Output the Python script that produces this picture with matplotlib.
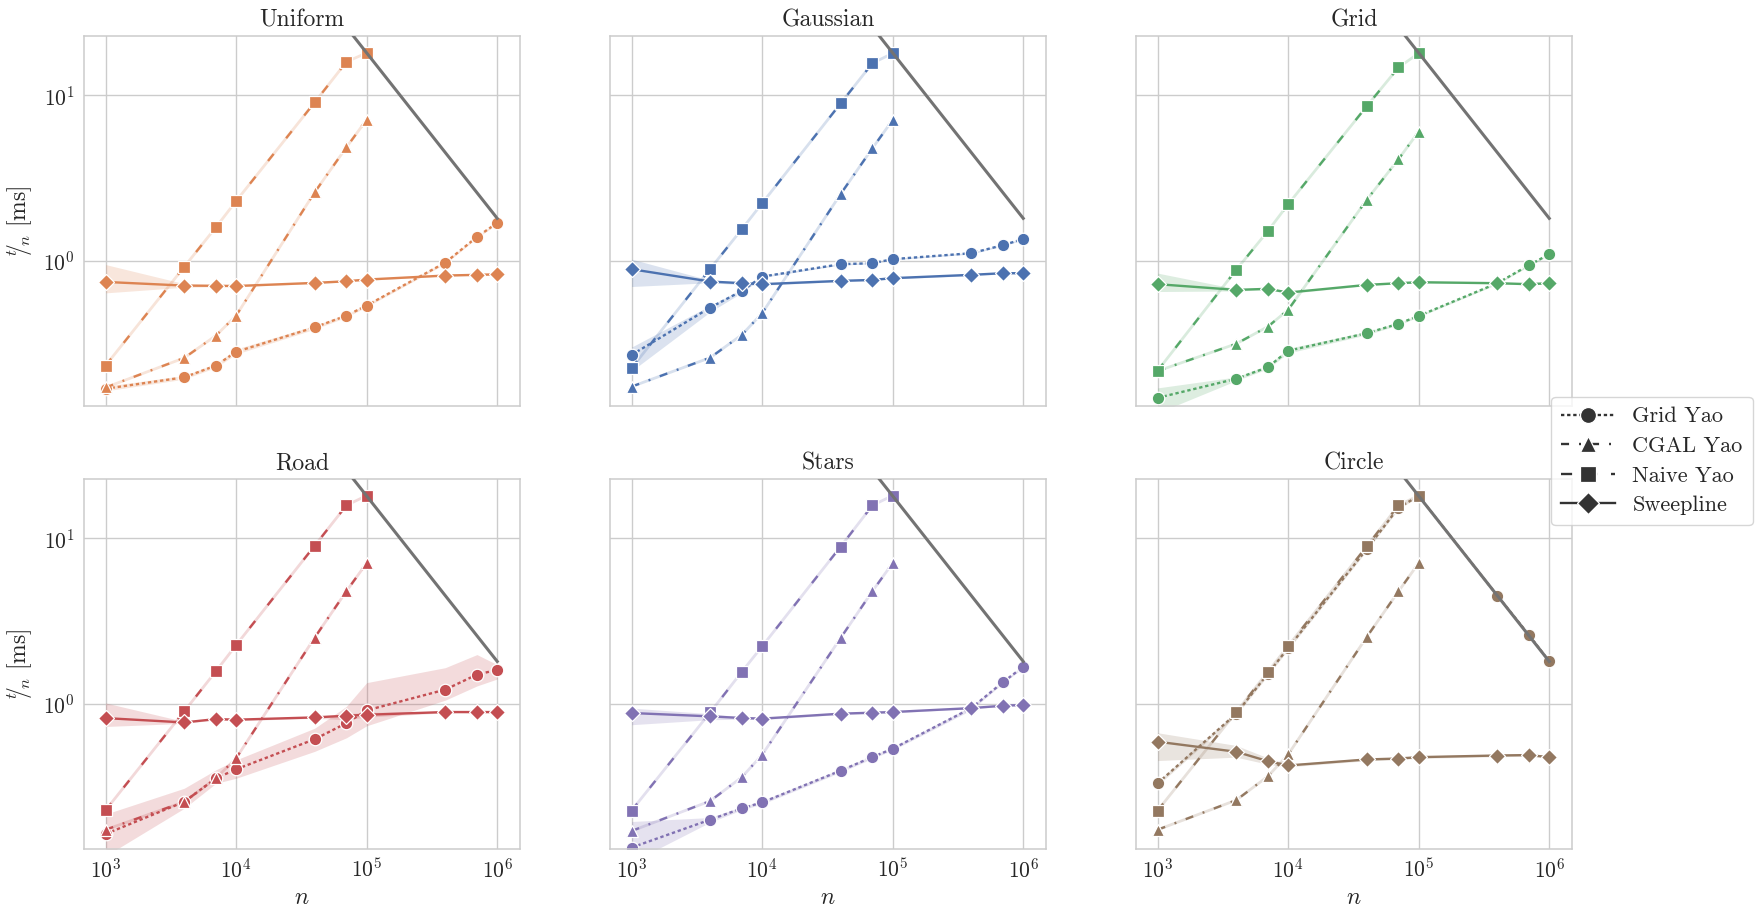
import matplotlib
matplotlib.use("Agg")
import matplotlib.pyplot as plt
from matplotlib.lines import Line2D
from matplotlib.ticker import LogLocator, NullLocator

# ---------------- data ----------------
n_values = [1e3, 4e3, 7e3, 1e4, 4e4, 7e4, 1e5, 4e5, 7e5, 1e6]
n_short = [1e3, 4e3, 7e3, 1e4, 4e4, 7e4, 1e5]

panel_titles = ["Uniform", "Gaussian", "Grid", "Road", "Stars", "Circle"]
panel_colors = ["#DD8452", "#4C72B0", "#55A868", "#C44E52", "#8172B3", "#937860"]
algorithms = ["Grid Yao", "CGAL Yao", "Naive Yao", "Sweepline"]

# Uniform
uniform_grid = [0.168, 0.197, 0.232, 0.281, 0.395, 0.465, 0.535, 0.972, 1.39, 1.69]
uniform_grid_lo = [0.163, 0.192, 0.226, 0.272, 0.385, 0.455, 0.525, 0.955, 1.37, 1.66]
uniform_grid_hi = [0.174, 0.202, 0.238, 0.292, 0.405, 0.475, 0.545, 0.990, 1.41, 1.72]
uniform_cgal = [0.171, 0.258, 0.352, 0.465, 2.59, 4.84, 7.11]
uniform_naive = [0.232, 0.916, 1.59, 2.29, 9.05, 15.9, 18.0]
uniform_sweep = [0.743, 0.706, 0.704, 0.702, 0.733, 0.750, 0.768, 0.812, 0.820, 0.826]
uniform_sweep_lo = [0.638, 0.690, 0.695, 0.695, 0.725, 0.742, 0.760, 0.805, 0.813, 0.820]
uniform_sweep_hi = [0.946, 0.725, 0.715, 0.710, 0.742, 0.758, 0.776, 0.820, 0.828, 0.833]

# Gaussian
gaussian_grid = [0.269, 0.520, 0.656, 0.800, 0.951, 0.964, 1.02, 1.108, 1.24, 1.35]
gaussian_grid_lo = [0.215, 0.490, 0.640, 0.790, 0.940, 0.955, 1.01, 1.095, 1.225, 1.335]
gaussian_grid_hi = [0.300, 0.535, 0.670, 0.810, 0.962, 0.973, 1.03, 1.120, 1.255, 1.365]
gaussian_cgal = [0.173, 0.259, 0.356, 0.481, 2.53, 4.78, 7.08]
gaussian_naive = [0.224, 0.891, 1.55, 2.22, 8.93, 15.6, 17.9]
gaussian_sweep = [0.887, 0.747, 0.730, 0.720, 0.754, 0.764, 0.783, 0.820, 0.839, 0.839]
gaussian_sweep_lo = [0.697, 0.735, 0.715, 0.710, 0.745, 0.755, 0.775, 0.810, 0.830, 0.830]
gaussian_sweep_hi = [1.020, 0.760, 0.745, 0.730, 0.763, 0.773, 0.791, 0.830, 0.848, 0.848]

# Grid
grid_grid = [0.148, 0.193, 0.227, 0.285, 0.364, 0.415, 0.463, 0.730, 0.938, 1.093]
grid_grid_lo = [0.120, 0.188, 0.222, 0.276, 0.356, 0.408, 0.456, 0.720, 0.925, 1.080]
grid_grid_hi = [0.170, 0.198, 0.232, 0.295, 0.372, 0.422, 0.470, 0.740, 0.950, 1.105]
grid_cgal = [0.215, 0.314, 0.399, 0.504, 2.33, 4.10, 6.02]
grid_naive = [0.216, 0.879, 1.51, 2.19, 8.57, 14.7, 17.9]
grid_sweep = [0.720, 0.665, 0.675, 0.641, 0.713, 0.730, 0.740, 0.730, 0.720, 0.730]
grid_sweep_lo = [0.650, 0.655, 0.665, 0.632, 0.705, 0.722, 0.732, 0.722, 0.712, 0.722]
grid_sweep_hi = [0.840, 0.675, 0.685, 0.650, 0.720, 0.738, 0.748, 0.738, 0.728, 0.738]

# Road
road_grid = [0.163, 0.255, 0.354, 0.401, 0.610, 0.763, 0.911, 1.216, 1.50, 1.60]
road_grid_lo = [0.120, 0.233, 0.330, 0.354, 0.515, 0.622, 0.735, 1.050, 1.28, 1.41]
road_grid_hi = [0.215, 0.308, 0.398, 0.457, 0.711, 0.964, 1.340, 1.650, 1.98, 1.72]
road_cgal = [0.173, 0.255, 0.354, 0.468, 2.51, 4.79, 7.08]
road_naive = [0.227, 0.898, 1.57, 2.26, 9.02, 15.8, 18.1]
road_sweep = [0.818, 0.770, 0.807, 0.800, 0.826, 0.845, 0.857, 0.890, 0.890, 0.890]
road_sweep_lo = [0.728, 0.760, 0.797, 0.790, 0.815, 0.800, 0.830, 0.880, 0.880, 0.880]
road_sweep_hi = [1.010, 0.780, 0.817, 0.810, 0.837, 0.870, 0.885, 0.900, 0.900, 0.900]

# Stars
stars_grid = [0.135, 0.199, 0.233, 0.253, 0.394, 0.476, 0.534, 0.940, 1.35, 1.67]
stars_grid_lo = [0.110, 0.192, 0.228, 0.247, 0.385, 0.466, 0.523, 0.915, 1.33, 1.64]
stars_grid_hi = [0.194, 0.205, 0.238, 0.259, 0.403, 0.486, 0.545, 0.965, 1.37, 1.70]
stars_cgal = [0.170, 0.258, 0.360, 0.491, 2.50, 4.79, 7.08]
stars_naive = [0.226, 0.885, 1.56, 2.22, 8.91, 15.8, 18.1]
stars_sweep = [0.878, 0.838, 0.819, 0.812, 0.870, 0.882, 0.890, 0.940, 0.972, 0.982]
stars_sweep_lo = [0.746, 0.800, 0.805, 0.800, 0.860, 0.872, 0.880, 0.930, 0.962, 0.972]
stars_sweep_hi = [0.940, 0.870, 0.830, 0.824, 0.880, 0.892, 0.900, 0.950, 0.982, 0.992]

# Circle
circle_grid = [0.330, 0.870, 1.52, 2.17, 8.6, 15.3, 18.0, 4.50, 2.60, 1.80]
circle_grid_lo = [0.320, 0.850, 1.48, 2.12, 8.4, 15.0, 17.8, 4.45, 2.57, 1.78]
circle_grid_hi = [0.340, 0.890, 1.56, 2.22, 8.8, 15.6, 18.2, 4.55, 2.63, 1.82]
circle_cgal = [0.173, 0.261, 0.364, 0.493, 2.53, 4.77, 7.08]
circle_naive = [0.226, 0.889, 1.56, 2.23, 8.93, 15.8, 18.1]
circle_sweep = [0.589, 0.512, 0.449, 0.423, 0.460, 0.466, 0.475, 0.486, 0.489, 0.475]
circle_sweep_lo = [0.453, 0.475, 0.430, 0.415, 0.452, 0.458, 0.467, 0.478, 0.481, 0.467]
circle_sweep_hi = [0.667, 0.559, 0.470, 0.431, 0.468, 0.474, 0.483, 0.494, 0.497, 0.483]

# timeout reference line (t/n in ms)
timeout_n = [1e4, 1e6]
timeout_ms_per_n = [180.0, 1.8]

panel_data = {
    "Uniform": [(uniform_grid, uniform_grid_lo, uniform_grid_hi), (uniform_cgal, None, None),
                (uniform_naive, None, None), (uniform_sweep, uniform_sweep_lo, uniform_sweep_hi)],
    "Gaussian": [(gaussian_grid, gaussian_grid_lo, gaussian_grid_hi), (gaussian_cgal, None, None),
                 (gaussian_naive, None, None), (gaussian_sweep, gaussian_sweep_lo, gaussian_sweep_hi)],
    "Grid": [(grid_grid, grid_grid_lo, grid_grid_hi), (grid_cgal, None, None),
             (grid_naive, None, None), (grid_sweep, grid_sweep_lo, grid_sweep_hi)],
    "Road": [(road_grid, road_grid_lo, road_grid_hi), (road_cgal, None, None),
             (road_naive, None, None), (road_sweep, road_sweep_lo, road_sweep_hi)],
    "Stars": [(stars_grid, stars_grid_lo, stars_grid_hi), (stars_cgal, None, None),
              (stars_naive, None, None), (stars_sweep, stars_sweep_lo, stars_sweep_hi)],
    "Circle": [(circle_grid, circle_grid_lo, circle_grid_hi), (circle_cgal, None, None),
               (circle_naive, None, None), (circle_sweep, circle_sweep_lo, circle_sweep_hi)],
}

# ---------------- style ----------------
plt.rcParams.update({
    "font.family": ["cmr10", "DejaVu Serif"],
    "mathtext.fontset": "cm",
    "axes.formatter.use_mathtext": True,
    "axes.unicode_minus": False,
    "text.color": "#262626",
    "axes.labelcolor": "#262626",
    "xtick.color": "#262626",
    "ytick.color": "#262626",
    "lines.scale_dashes": False,
})

markers = {"Grid Yao": "o", "CGAL Yao": "^", "Naive Yao": "s", "Sweepline": "D"}
dash_styles = {"Grid Yao": (2.4, 2.0), "CGAL Yao": (5.8, 7.2, 1.4, 7.2),
               "Naive Yao": (6.5, 14.4), "Sweepline": None}
msizes = {"Grid Yao": 9.0, "CGAL Yao": 9.0, "Naive Yao": 8.6, "Sweepline": 8.4}
LW = 1.7

fig, axes = plt.subplots(2, 3, figsize=(17.62, 9.21), dpi=100, sharex=True, sharey=True)
fig.subplots_adjust(left=0.0477, right=0.8923, top=0.961, bottom=0.078, wspace=0.206, hspace=0.197)

for idx, (ax, title, color) in enumerate(zip(axes.flat, panel_titles, panel_colors)):
    ax.set_xscale("log")
    ax.set_yscale("log")
    ax.set_facecolor("white")
    for spine in ax.spines.values():
        spine.set_color("#cccccc")
        spine.set_linewidth(1.1)
    ax.grid(True, which="major", color="#cccccc", linewidth=1.0)
    ax.set_axisbelow(True)

    for alg, (vals, lo, hi) in zip(algorithms, panel_data[title]):
        xs = n_values[:len(vals)]
        if lo is not None:
            ax.fill_between(xs, lo, hi, color=color, alpha=0.2, linewidth=0, zorder=1.5)
        else:
            ax.plot(xs, vals, color=color, alpha=0.22, lw=2.0, solid_capstyle="butt", zorder=1.6)
        kw = dict(color=color, lw=LW, marker=markers[alg], ms=msizes[alg],
                  mec="white", mew=0.9, zorder=2.5)
        line, = ax.plot(xs, vals, **kw)
        if dash_styles[alg] is not None:
            line.set_dashes(dash_styles[alg])

    ax.plot(timeout_n, timeout_ms_per_n, color="#737373", lw=2.2, zorder=3)

    ax.set_title(title, fontsize=17, pad=7)
    ax.set_xlim(684, 1.5e6)
    ax.set_ylim(0.132, 22.8)
    ax.xaxis.set_major_locator(LogLocator(base=10, numticks=10))
    ax.xaxis.set_minor_locator(NullLocator())
    ax.yaxis.set_major_locator(LogLocator(base=10, numticks=10))
    ax.yaxis.set_minor_locator(NullLocator())
    ax.tick_params(axis="both", which="both", length=0, labelsize=15.5)
    ax.tick_params(axis="x", pad=6)
    ax.tick_params(axis="y", pad=7)
    if idx % 3 == 0:
        ax.set_ylabel(r"$^{t}\!\!/\!_{n}$ [ms]", fontsize=17, labelpad=6)
    if idx >= 3:
        ax.set_xlabel(r"$n$", fontsize=17, labelpad=4)

handles = []
for alg in algorithms:
    h = Line2D([0], [0], color="#333333", lw=LW, marker=markers[alg], ms=11.5,
               mec="white", mew=0.9)
    if dash_styles[alg] is not None:
        h.set_dashes(dash_styles[alg] if alg != "Naive Yao" else (8.0, 10.0))
    handles.append(h)

leg = fig.legend(handles, algorithms, loc="center", bbox_to_anchor=(0.9375, 0.4995),
                 fontsize=16, frameon=True, framealpha=0.8, edgecolor="#cccccc",
                 fancybox=True, handlelength=2.4, borderpad=0.45, labelspacing=0.45,
                 handletextpad=0.8)
leg.get_frame().set_linewidth(1.0)

fig.savefig("out.png", dpi=100, facecolor="white")
